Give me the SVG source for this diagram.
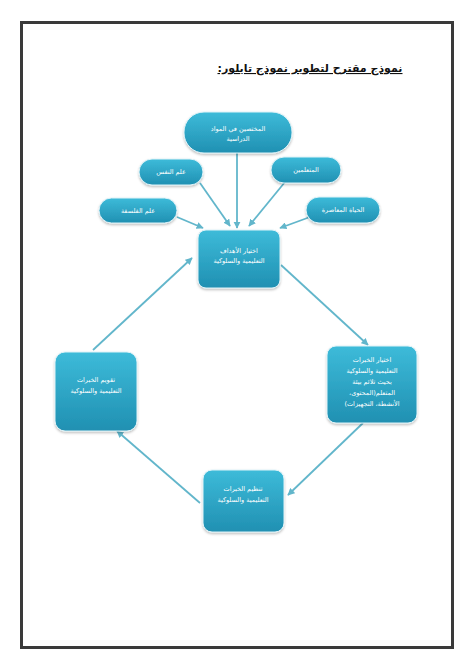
<svg xmlns="http://www.w3.org/2000/svg" width="474" height="670" viewBox="0 0 474 670">
<defs>
<linearGradient id="g" x1="0" y1="0" x2="0" y2="1">
<stop offset="0" stop-color="#3dbbd9"/>
<stop offset="1" stop-color="#2090b2"/>
</linearGradient>
<filter id="sh" x="-10%" y="-10%" width="130%" height="140%">
<feDropShadow dx="0" dy="1.5" stdDeviation="1.2" flood-color="#000" flood-opacity="0.25"/>
</filter>
<marker id="ah" viewBox="0 0 10 10" refX="9" refY="5" markerWidth="4" markerHeight="4" orient="auto">
<path d="M0,0 L10,5 L0,10 z" fill="#62b6cb"/>
</marker>
<style>
.n{fill:url(#g);stroke:#dff3f8;stroke-width:1;filter:url(#sh)}
.t{font-family:"DejaVu Sans","Noto Sans",sans-serif;font-size:6.5px;fill:#ffffff;text-anchor:middle}
.c{stroke:#62b6cb;stroke-width:1.8;fill:none;marker-end:url(#ah)}
</style>
</defs>
<rect x="0" y="0" width="474" height="670" fill="#ffffff"/>
<rect x="21.5" y="22.5" width="431" height="625" fill="none" stroke="#3a3a3a" stroke-width="3"/>
<text x="310" y="72" direction="rtl" font-family="DejaVu Sans, sans-serif" font-size="11" font-weight="bold" text-anchor="middle" fill="#111" text-decoration="underline">نموذج مقترح لتطوير نموذج تايلور:</text>

<g id="connectors">
<line class="c" x1="237" y1="153" x2="237" y2="228"/>
<line class="c" x1="200" y1="183" x2="230" y2="226"/>
<line class="c" x1="177" y1="217" x2="203" y2="228"/>
<line class="c" x1="285" y1="182" x2="249" y2="226"/>
<line class="c" x1="310" y1="217" x2="280" y2="228"/>
<line class="c" x1="281" y1="265" x2="368" y2="345"/>
<line class="c" x1="363" y1="423" x2="288" y2="495"/>
<line class="c" x1="200" y1="503" x2="117" y2="431"/>
<line class="c" x1="93" y1="350" x2="192" y2="258"/>
</g>

<g id="n-specialists">
<rect class="n" x="184" y="112" width="108" height="41" rx="20"/>
<text class="t" x="238" y="131" direction="rtl">المختصين في المواد</text>
<text class="t" x="238" y="141" direction="rtl">الدراسية</text>
</g>
<g id="n-psychology">
<rect class="n" x="139" y="159" width="64" height="26" rx="13"/>
<text class="t" x="171" y="174" direction="rtl">علم النفس</text>
</g>
<g id="n-philosophy">
<rect class="n" x="99" y="198" width="78" height="25" rx="12.5"/>
<text class="t" x="138" y="213" direction="rtl">علم الفلسفة</text>
</g>
<g id="n-learners">
<rect class="n" x="271" y="157" width="70" height="26" rx="13"/>
<text class="t" x="306" y="172" direction="rtl">المتعلمين</text>
</g>
<g id="n-life">
<rect class="n" x="306" y="197" width="74" height="26" rx="13"/>
<text class="t" x="343" y="212" direction="rtl">الحياة المعاصرة</text>
</g>
<g id="n-objectives">
<rect class="n" x="198" y="230" width="82" height="58" rx="8"/>
<text class="t" x="239" y="253" direction="rtl">اختيار الأهداف</text>
<text class="t" x="239" y="263" direction="rtl">التعليمية والسلوكية</text>
</g>
<g id="n-select">
<rect class="n" x="327" y="346" width="90" height="77" rx="9"/>
<text class="t" x="372" y="362" direction="rtl">اختيار الخبرات</text>
<text class="t" x="372" y="373" direction="rtl">التعليمية والسلوكية</text>
<text class="t" x="372" y="384" direction="rtl">بحيث تلائم بيئة</text>
<text class="t" x="372" y="395" direction="rtl">المتعلم(المحتوى،</text>
<text class="t" x="372" y="406" direction="rtl">الأنشطة، التجهيزات)</text>
</g>
<g id="n-organize">
<rect class="n" x="203" y="470" width="81" height="62" rx="9"/>
<text class="t" x="243" y="491" direction="rtl">تنظيم الخبرات</text>
<text class="t" x="243" y="502" direction="rtl">التعليمية والسلوكية</text>
</g>
<g id="n-evaluate">
<rect class="n" x="55" y="352" width="82" height="79" rx="10"/>
<text class="t" x="96" y="382" direction="rtl">تقويم الخبرات</text>
<text class="t" x="96" y="393" direction="rtl">التعليمية والسلوكية</text>
</g>
</svg>
